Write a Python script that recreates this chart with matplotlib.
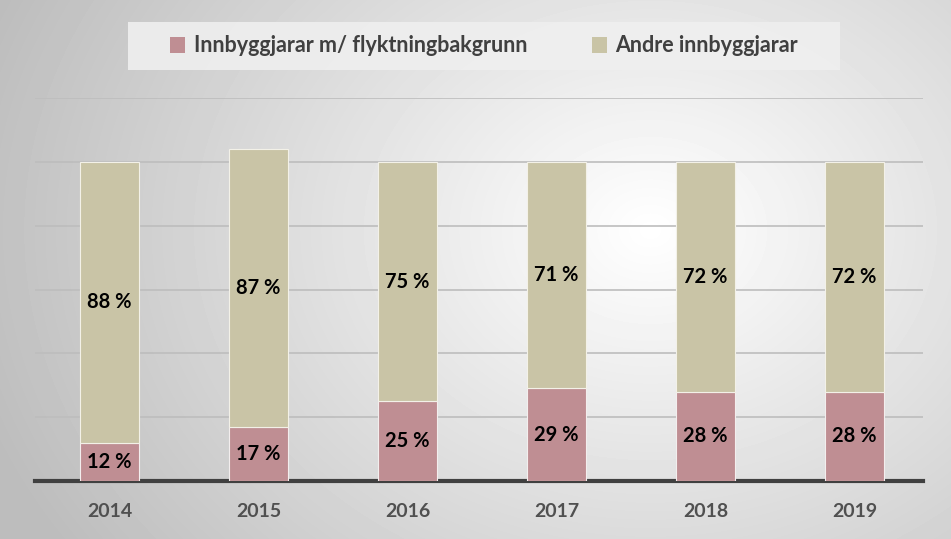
import numpy as np
import matplotlib
matplotlib.use("Agg")
import matplotlib.pyplot as plt
from matplotlib.patches import Rectangle, Patch

years = ['2014', '2015', '2016', '2017', '2018', '2019']
flykt = [12, 17, 25, 29, 28, 28]
andre = [88, 87, 75, 71, 72, 72]
names = ['Innbyggjarar m/ flyktningbakgrunn', 'Andre innbyggjarar']
col_f = '#bf8e93'
col_a = '#c9c4a6'

plt.rcParams['font.family'] = ['Lato', 'DejaVu Sans']

fig = plt.figure(figsize=(9.51, 5.39), dpi=100)

# radial background
bg = fig.add_axes([0, 0, 1, 1], zorder=-10)
yy, xx = np.mgrid[0:539, 0:951]
r = np.sqrt(((xx - 650) / 951.0) ** 2 + ((yy - 230) / 539.0) ** 2 * 0.5)
g = np.clip(1.0 - r * 0.35, 0.74, 1.0)
bg.imshow(g, cmap='gray', vmin=0, vmax=1, aspect='auto', extent=[0, 1, 0, 1])
bg.set_xlim(0, 1)
bg.set_ylim(0, 1)
bg.axis('off')

# legend box
bg.add_patch(Rectangle((128 / 951, 1 - 70 / 539), 712 / 951, 48 / 539,
                       facecolor='#efefef', edgecolor='none', alpha=0.9))

ax = fig.add_axes([35 / 951, 58 / 539, 888 / 951, 383 / 539])
ax.set_facecolor('none')
x = np.arange(len(years))
w = 0.39
ax.bar(x, flykt, w, color=col_f, edgecolor='#f3eeee', linewidth=0.8, zorder=3)
ax.bar(x, andre, w, bottom=flykt, color=col_a, edgecolor='#f3f1e8', linewidth=0.8, zorder=3)

for i in range(len(years)):
    ax.text(x[i], flykt[i] / 2.0, '%d %%' % flykt[i], ha='center', va='center',
            fontsize=14.5, fontweight='bold', color='black', zorder=5)
    ax.text(x[i], flykt[i] + andre[i] / 2.0, '%d %%' % andre[i], ha='center', va='center',
            fontsize=14.5, fontweight='bold', color='black', zorder=5)

ax.set_ylim(0, 120)
ax.set_xlim(-0.5, 5.46)
ax.set_yticks([20, 40, 60, 80, 100, 120])
ax.yaxis.grid(True, color='#bdbdbd', linewidth=1.2, zorder=0)
ax.set_axisbelow(True)
ax.tick_params(axis='y', left=False, labelleft=False)
ax.tick_params(axis='x', bottom=False, pad=12)
ax.set_xticks(x)
ax.set_xticklabels(years, fontsize=14, fontweight='bold', color='#505050')
for s in ['top', 'right', 'left']:
    ax.spines[s].set_visible(False)
ax.spines['bottom'].set_color('#404040')
ax.spines['bottom'].set_linewidth(3)

handles = [Patch(facecolor=col_f, edgecolor='none'), Patch(facecolor=col_a, edgecolor='none')]
leg = fig.legend(handles, names, loc='center', bbox_to_anchor=(484 / 951, 1 - 46 / 539),
                 ncol=2, frameon=False, columnspacing=3.0, handlelength=0.7, handleheight=0.7,
                 handletextpad=0.4, prop={'size': 15.5, 'weight': 'bold'})
for t in leg.get_texts():
    t.set_color('#404040')

fig.savefig('out.png', dpi=100)
